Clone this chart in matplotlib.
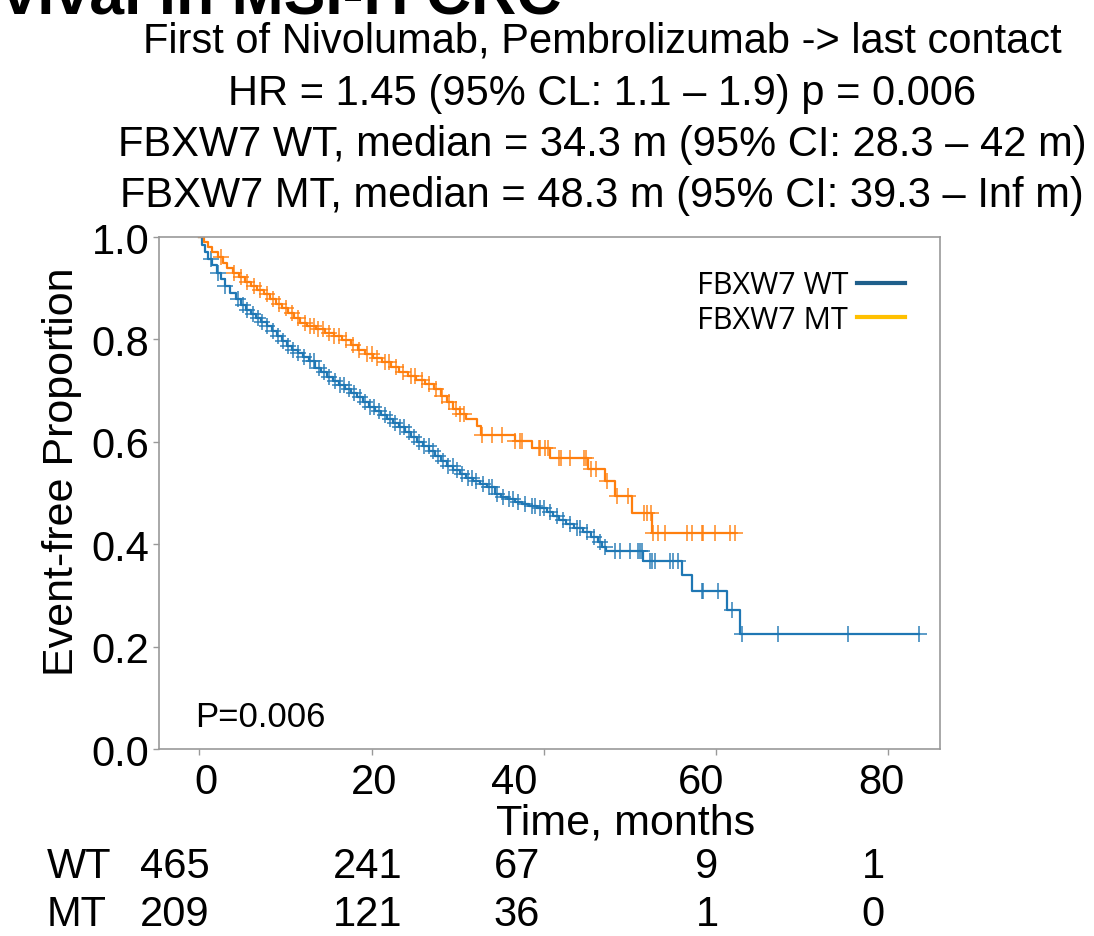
import numpy as np
import matplotlib
matplotlib.use("Agg")
import matplotlib.pyplot as plt
from matplotlib.lines import Line2D
from matplotlib.transforms import ScaledTranslation

# ---------------- data ----------------
wt_times = [0.0, 0.3, 0.7, 1.0, 1.5, 2.0, 2.5, 3.0, 3.6, 4.2, 4.8, 5.4, 6.0, 6.6, 7.2, 7.8,
            8.4, 9.0, 9.6, 10.2, 10.8, 11.4, 12.0, 12.7, 13.4, 14.1, 14.8, 15.5, 16.2, 16.9,
            17.6, 18.3, 19.0, 19.7, 20.4, 21.1, 21.8, 22.5, 23.2, 23.9, 24.6, 25.3, 26.0,
            26.7, 27.4, 28.1, 28.8, 29.5, 30.2, 31.0, 31.8, 32.6, 33.4, 34.3, 35.0, 35.8,
            36.6, 37.4, 38.3, 39.2, 40.4, 41.0, 41.8, 42.6, 43.5, 44.5, 45.5, 46.3, 46.8,
            47.2, 51.5, 56.0, 57.2, 61.3, 62.8]
wt_surv = [1.0, 0.985, 0.97, 0.958, 0.945, 0.93, 0.918, 0.905, 0.89, 0.878, 0.867, 0.858,
           0.85, 0.842, 0.834, 0.826, 0.817, 0.807, 0.797, 0.788, 0.78, 0.773, 0.766, 0.757,
           0.745, 0.736, 0.727, 0.718, 0.71, 0.703, 0.695, 0.688, 0.678, 0.668, 0.66, 0.652,
           0.645, 0.637, 0.629, 0.62, 0.61, 0.6, 0.591, 0.582, 0.572, 0.563, 0.553, 0.545,
           0.538, 0.53, 0.524, 0.517, 0.511, 0.498, 0.493, 0.488, 0.483, 0.478, 0.474,
           0.47, 0.462, 0.455, 0.447, 0.44, 0.432, 0.424, 0.414, 0.405, 0.395, 0.386,
           0.368, 0.339, 0.309, 0.272, 0.224]
wt_end = 83.6
wt_censor = [1.3, 2.2, 3.0, 4.5, 5.0, 5.5, 6.2, 6.8, 7.3, 7.9, 8.5, 9.1, 9.7, 10.3, 10.9,
             11.5, 12.1, 12.8, 13.3, 13.9, 14.5, 15.1, 15.7, 16.3, 16.8, 17.4, 18.0, 18.6,
             19.2, 19.8, 20.3, 20.9, 21.5, 22.1, 22.7, 23.3, 23.8, 24.3, 24.9, 25.5, 26.1,
             26.6, 27.1, 27.7, 28.3, 28.9, 29.4, 29.9, 30.5, 31.2, 31.6, 32.1, 32.9, 33.6,
             34.0, 34.6, 35.3, 36.0, 36.4, 37.0, 37.8, 38.6, 39.0, 39.5, 40.0, 40.7, 41.5,
             42.2, 43.0, 43.8, 44.2, 45.0, 45.8, 46.5, 47.1, 48.3, 48.8, 50.0, 50.9, 51.2,
             51.4, 52.3, 52.6, 52.9, 54.6, 55.0, 55.6, 58.4, 58.5, 60.2, 61.8, 63.0, 67.2,
             75.3, 83.6]

mt_times = [0.0, 0.5, 1.0, 1.5, 2.1, 2.7, 3.2, 3.9, 4.6, 5.3, 6.0, 6.7, 7.5, 8.2, 8.9, 9.6,
            10.3, 11.0, 11.7, 12.5, 13.5, 14.6, 15.6, 16.6, 17.6, 18.4, 19.2, 20.2, 21.2,
            22.2, 23.2, 24.2, 25.2, 26.2, 27.2, 28.0, 28.7, 29.4, 30.2, 31.0, 32.2, 32.7,
            36.7, 38.6, 40.7, 45.1, 47.1, 48.3, 50.2, 52.6]
mt_surv = [1.0, 0.99, 0.98, 0.97, 0.96, 0.95, 0.94, 0.93, 0.922, 0.912, 0.905, 0.897, 0.888,
           0.879, 0.87, 0.861, 0.851, 0.842, 0.833, 0.826, 0.82, 0.813, 0.806, 0.798, 0.79,
           0.78, 0.772, 0.763, 0.755, 0.746, 0.737, 0.729, 0.721, 0.712, 0.703, 0.69, 0.677,
           0.665, 0.655, 0.645, 0.63, 0.614, 0.602, 0.587, 0.569, 0.547, 0.524, 0.494,
           0.461, 0.421]
mt_end = 62.2
mt_censor = [2.5, 4.0, 4.8, 5.5, 6.3, 7.0, 7.8, 8.5, 9.2, 10.0, 10.7, 11.4, 12.2, 12.8, 13.3,
             13.8, 14.3, 15.0, 15.6, 16.2, 17.0, 17.8, 18.5, 19.5, 20.0, 20.6, 21.5, 22.0,
             22.8, 23.6, 24.6, 25.0, 25.8, 26.6, 27.5, 28.2, 29.0, 29.8, 30.3, 30.7, 32.8,
             34.0, 35.1, 36.7, 37.2, 37.4, 39.4, 39.6, 40.1, 40.5, 41.8, 42.0, 43.0, 44.7,
             44.9, 45.5, 46.1, 47.3, 48.5, 49.8, 51.6, 52.0, 52.4, 52.7, 53.2, 54.1, 56.6,
             57.2, 58.4, 58.5, 59.9, 61.6, 62.2]

group_labels = ["FBXW7 WT", "FBXW7 MT"]
risk_rows = ["WT", "MT"]
risk_wt = ["465", "241", "67", "9", "1"]
risk_mt = ["209", "121", "36", "1", "0"]
xticks = [0, 20, 40, 60, 80]
yticks = [0.0, 0.2, 0.4, 0.6, 0.8, 1.0]
title_lines = [
    "First of Nivolumab, Pembrolizumab -> last contact",
    "HR = 1.45 (95% CL: 1.1 \u2013 1.9) p = 0.006",
    "FBXW7 WT, median = 34.3 m (95% CI: 28.3 \u2013 42 m)",
    "FBXW7 MT, median = 48.3 m (95% CI: 39.3 \u2013 Inf m)",
]
top_title = "Survival in MSI-H CRC"
p_text = "P=0.006"

# ---------------- figure ----------------
W, H = 1094, 937
plt.rcParams['font.family'] = ['Liberation Sans', 'DejaVu Sans']
fig = plt.figure(figsize=(W / 100, H / 100), dpi=100)

def fx(px):
    return px / W

def fy(py):
    return 1 - py / H

ax = fig.add_axes([fx(159), fy(750), fx(940) - fx(159), fy(238) - fy(750)])

c_wt, c_mt = "#1f77b4", "#ff7f0e"

def draw(times, surv, end, cens, color):
    t = np.array(times + [end])
    s = np.array(surv + [surv[-1]])
    ax.step(t, s, where="post", color=color, lw=1.6)
    cens = np.array(cens)
    idx = np.searchsorted(np.array(times), cens, side="right") - 1
    cy = np.array(surv)[idx]
    ax.plot(cens, cy, ls="none", marker="+", ms=11, mew=1.2, color=color, alpha=0.85)

draw(wt_times, wt_surv, wt_end, wt_censor, c_wt)
draw(mt_times, mt_surv, mt_end, mt_censor, c_mt)

ax.set_xlim(-4.7, 86.0)
ax.set_ylim(0, 1.0)
ax.set_xticks(xticks)
ax.set_yticks(yticks)
ax.set_xticklabels([str(v) for v in xticks], fontsize=30)
ax.set_yticklabels([f"{v:.1f}" for v in yticks], fontsize=30)
ax.tick_params(colors="#999999", labelcolor="black", length=4, width=1)
ax.tick_params(axis="x", pad=5)
ax.tick_params(axis="y", pad=3)
# x tick labels sit slightly off their ticks in the reference
label_shift = [6, 2, -30, -15, -7]
for lab, dx in zip(ax.get_xticklabels(), label_shift):
    lab.set_transform(lab.get_transform() + ScaledTranslation(dx / 100, 0, fig.dpi_scale_trans))
for sp in ax.spines.values():
    sp.set_color("#999999")
    sp.set_linewidth(1.2)
ax.set_xlabel("Time, months", fontsize=31)
ax.xaxis.set_label_coords(0.598, -0.104)
ax.set_ylabel("Event-free Proportion", fontsize=31)
ax.yaxis.set_label_coords(-0.099, 0.543)

handles = [Line2D([], [], color="#1f5f8b", lw=3), Line2D([], [], color="#ffc000", lw=3)]
ax.legend(handles, group_labels, loc="upper right", frameon=False, markerfirst=False,
          prop={"family": "Open Sans", "size": 22}, handlelength=1.55, handletextpad=0.3,
          labelspacing=0.14, borderpad=0, borderaxespad=0, bbox_to_anchor=(0.955, 0.935))

ax.text(0.046, 0.064, p_text, transform=ax.transAxes, fontsize=25, va="center", ha="left")

# titles
for i, line in enumerate(title_lines):
    fig.text(fx(602), fy(42 + 51.5 * i), line, fontsize=30, ha="center", va="center")
fig.text(fx(562), fy(13), top_title, fontsize=45, fontweight="bold", ha="right", va="baseline")

# at-risk table
col_x = [175, 368, 517, 707, 873]
row_y = [867, 915]
for r, (lab, vals) in enumerate(zip(risk_rows, [risk_wt, risk_mt])):
    fig.text(fx(47), fy(row_y[r]), lab, fontsize=30, ha="left", va="center")
    for x, v in zip(col_x, vals):
        fig.text(fx(x), fy(row_y[r]), v, fontsize=30, ha="center", va="center")

fig.savefig("out.png", dpi=100)
